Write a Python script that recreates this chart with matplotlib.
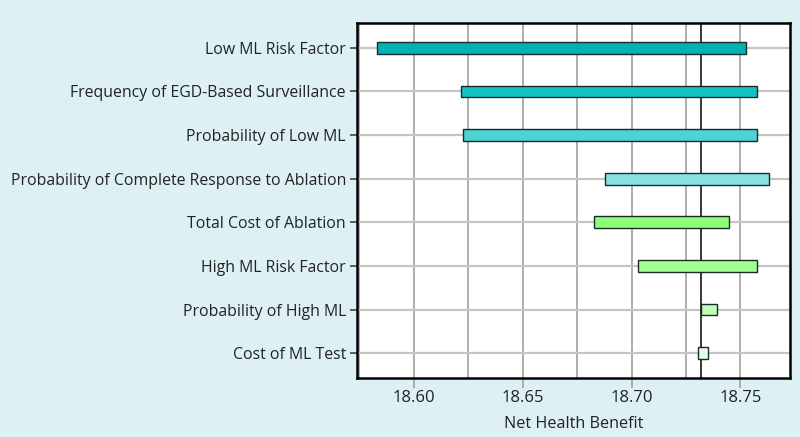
import matplotlib.pyplot as plt
from matplotlib.ticker import MultipleLocator

plt.rcParams['font.family'] = ['Open Sans', 'DejaVu Sans']

# tornado diagram: low/high net health benefit per parameter
parametros = ['Low ML Risk Factor', 'Frequency of EGD-Based Surveillance',
              'Probability of Low ML', 'Probability of Complete Response to Ablation',
              'Total Cost of Ablation', 'High ML Risk Factor',
              'Probability of High ML', 'Cost of ML Test']
nhb_baixo = [18.5833, 18.6219, 18.6225, 18.6878, 18.6826, 18.7029, 18.7317, 18.7305]
nhb_alto = [18.7526, 18.7575, 18.7575, 18.7630, 18.7448, 18.7578, 18.7393, 18.7351]
cores = ['#00b2b2', '#12c3c3', '#4dd3d3', '#88e2e2',
         '#90ff78', '#a3ff90', '#c3ffb3', '#e3ffe0']
nhb_base = 18.7317
x_ticks = [18.60, 18.65, 18.70, 18.75]

fundo = '#ddf0f4'
fig = plt.figure(figsize=(8, 4.37), dpi=100, facecolor=fundo)
ax = fig.add_axes([357 / 800, 1 - 378 / 437, (789.5 - 357) / 800, (378 - 23) / 437])
ax.set_facecolor('white')

y = list(range(len(parametros)))
larguras = [a - b for a, b in zip(nhb_alto, nhb_baixo)]
ax.barh(y, larguras, left=nhb_baixo, height=0.27, color=cores,
        edgecolor='#1a2a2a', linewidth=1.0, zorder=3)
ax.axvline(nhb_base, color='black', linewidth=1.1, zorder=2)

ax.set_xlim(18.574, 18.7725)
ax.set_ylim(len(parametros) - 0.43, -0.57)
ax.set_xticks(x_ticks)
ax.set_xticklabels([f'{v:.2f}' for v in x_ticks])
ax.xaxis.set_minor_locator(MultipleLocator(0.025))
ax.set_yticks(y)
ax.set_yticklabels(parametros)

ax.grid(True, which='both', axis='x', color='#a0a0a0', linewidth=1.2, zorder=1)
ax.grid(True, which='major', axis='y', color='#c4c4c4', linewidth=1.6, zorder=1)
ax.set_axisbelow(True)

ax.tick_params(axis='x', which='major', length=7, width=1.2, color='#a0a0a0',
               labelsize=12, pad=2, labelcolor='#222222')
ax.tick_params(axis='x', which='minor', length=0)
ax.tick_params(axis='y', length=5, width=1.2, color='#444444', labelsize=11.4,
               pad=3, labelcolor='#222222')
for s in ax.spines.values():
    s.set_linewidth(1.8)
    s.set_color('black')

ax.set_xlabel('Net Health Benefit', fontsize=11.6, color='#222222', labelpad=7)

fig.savefig('out.png', dpi=100, facecolor=fundo)
